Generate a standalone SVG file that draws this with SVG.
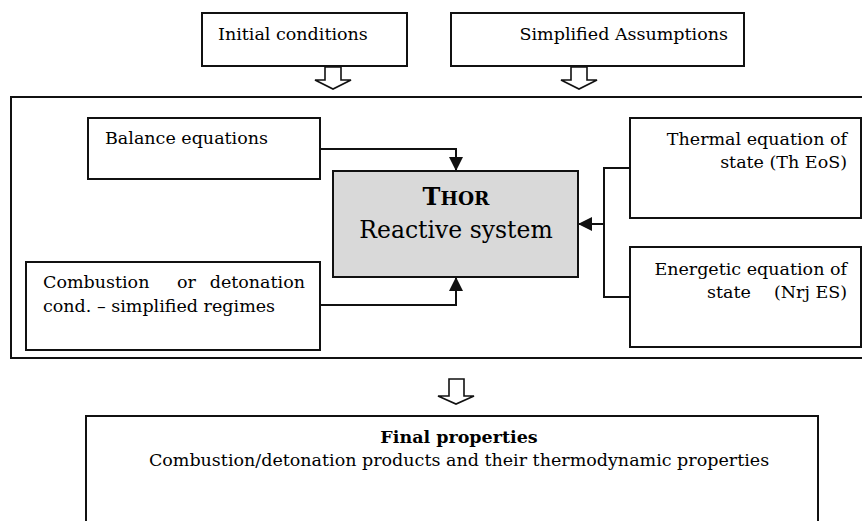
<svg xmlns="http://www.w3.org/2000/svg" width="862" height="521" viewBox="0 0 862 521">
  <style>
    .box { fill: #ffffff; stroke: #111111; stroke-width: 2; }
    .core { fill: #d9d9d9; stroke: #111111; stroke-width: 2; }
    .hollow { fill: #ffffff; stroke: #111111; stroke-width: 1.6; stroke-linejoin: miter; }
    .t { font-family: "DejaVu Serif", "Liberation Serif", serif; font-size: 17.5px; fill: #000000; }
    .big { font-family: "DejaVu Serif", "Liberation Serif", serif; font-size: 23.5px; fill: #000000; }
    .conn { fill: none; stroke: #111111; stroke-width: 2; }
  </style>
  <defs>
    <marker id="ah" markerUnits="userSpaceOnUse" markerWidth="15" markerHeight="14" refX="14" refY="7" orient="auto">
      <path d="M0,0 L14,7 L0,14 z" fill="#111111"/>
    </marker>
  </defs>
  <rect width="862" height="521" fill="#ffffff"/>

  <g id="initial">
    <rect class="box" x="202" y="13" width="205" height="53"/>
    <text class="t" x="218" y="40">Initial conditions</text>
  </g>
  <g id="assumptions">
    <rect class="box" x="451" y="13" width="293" height="53"/>
    <text class="t" x="728" y="40" text-anchor="end">Simplified Assumptions</text>
  </g>

  <g id="arrow-initial">
    <polygon class="hollow" points="325,67 341,67 341,80 351,80 333,89 315,80 325,80"/>
  </g>
  <g id="arrow-assumptions">
    <polygon class="hollow" points="571,67 587,67 587,80 597,80 579,89 561,80 571,80"/>
  </g>

  <g id="system">
    <rect class="box" x="11" y="97" width="860" height="261"/>
  </g>

  <g id="balance">
    <rect class="box" x="88" y="118" width="232" height="61"/>
    <text class="t" x="105" y="144">Balance equations</text>
  </g>

  <g id="combustion">
    <rect class="box" x="26" y="262" width="294" height="88"/>
    <text class="t" x="43" y="288">Combustion</text>
    <text class="t" x="177" y="288">or</text>
    <text class="t" x="305" y="288" text-anchor="end">detonation</text>
    <text class="t" x="43" y="312">cond. – simplified regimes</text>
  </g>

  <g id="thor">
    <rect class="core" x="333" y="171" width="245" height="106"/>
    <text class="big" x="456" y="205" text-anchor="middle" font-weight="bold"><tspan font-size="24">T</tspan><tspan font-size="18.5">HOR</tspan></text>
    <text class="big" x="456" y="238" text-anchor="middle">Reactive system</text>
  </g>

  <g id="thermal">
    <rect class="box" x="630" y="118" width="231" height="100"/>
    <text class="t" x="847" y="145" text-anchor="end">Thermal equation of</text>
    <text class="t" x="847" y="168" text-anchor="end">state (Th EoS)</text>
  </g>

  <g id="energetic">
    <rect class="box" x="630" y="247" width="231" height="100"/>
    <text class="t" x="847" y="275" text-anchor="end">Energetic equation of</text>
    <text class="t" x="707" y="298">state</text>
    <text class="t" x="847" y="298" text-anchor="end">(Nrj ES)</text>
  </g>

  <g id="arrow-final">
    <polygon class="hollow" points="449,379 464,379 464,396 474,396 456,404 438,396 449,396"/>
  </g>

  <g id="final">
    <rect class="box" x="86" y="416" width="732" height="120"/>
    <text class="t" x="459" y="443" text-anchor="middle" font-weight="bold" font-size="16.5">Final properties</text>
    <text class="t" x="459" y="466" text-anchor="middle">Combustion/detonation products and their thermodynamic properties</text>
  </g>

  <g id="connectors">
    <polyline class="conn" points="320,149 456,149 456,171" marker-end="url(#ah)"/>
    <polyline class="conn" points="320,305 456,305 456,277" marker-end="url(#ah)"/>
    <polyline class="conn" points="630,168 604,168 604,297 630,297"/>
    <line class="conn" x1="604" y1="224" x2="578" y2="224" marker-end="url(#ah)"/>
  </g>
</svg>
